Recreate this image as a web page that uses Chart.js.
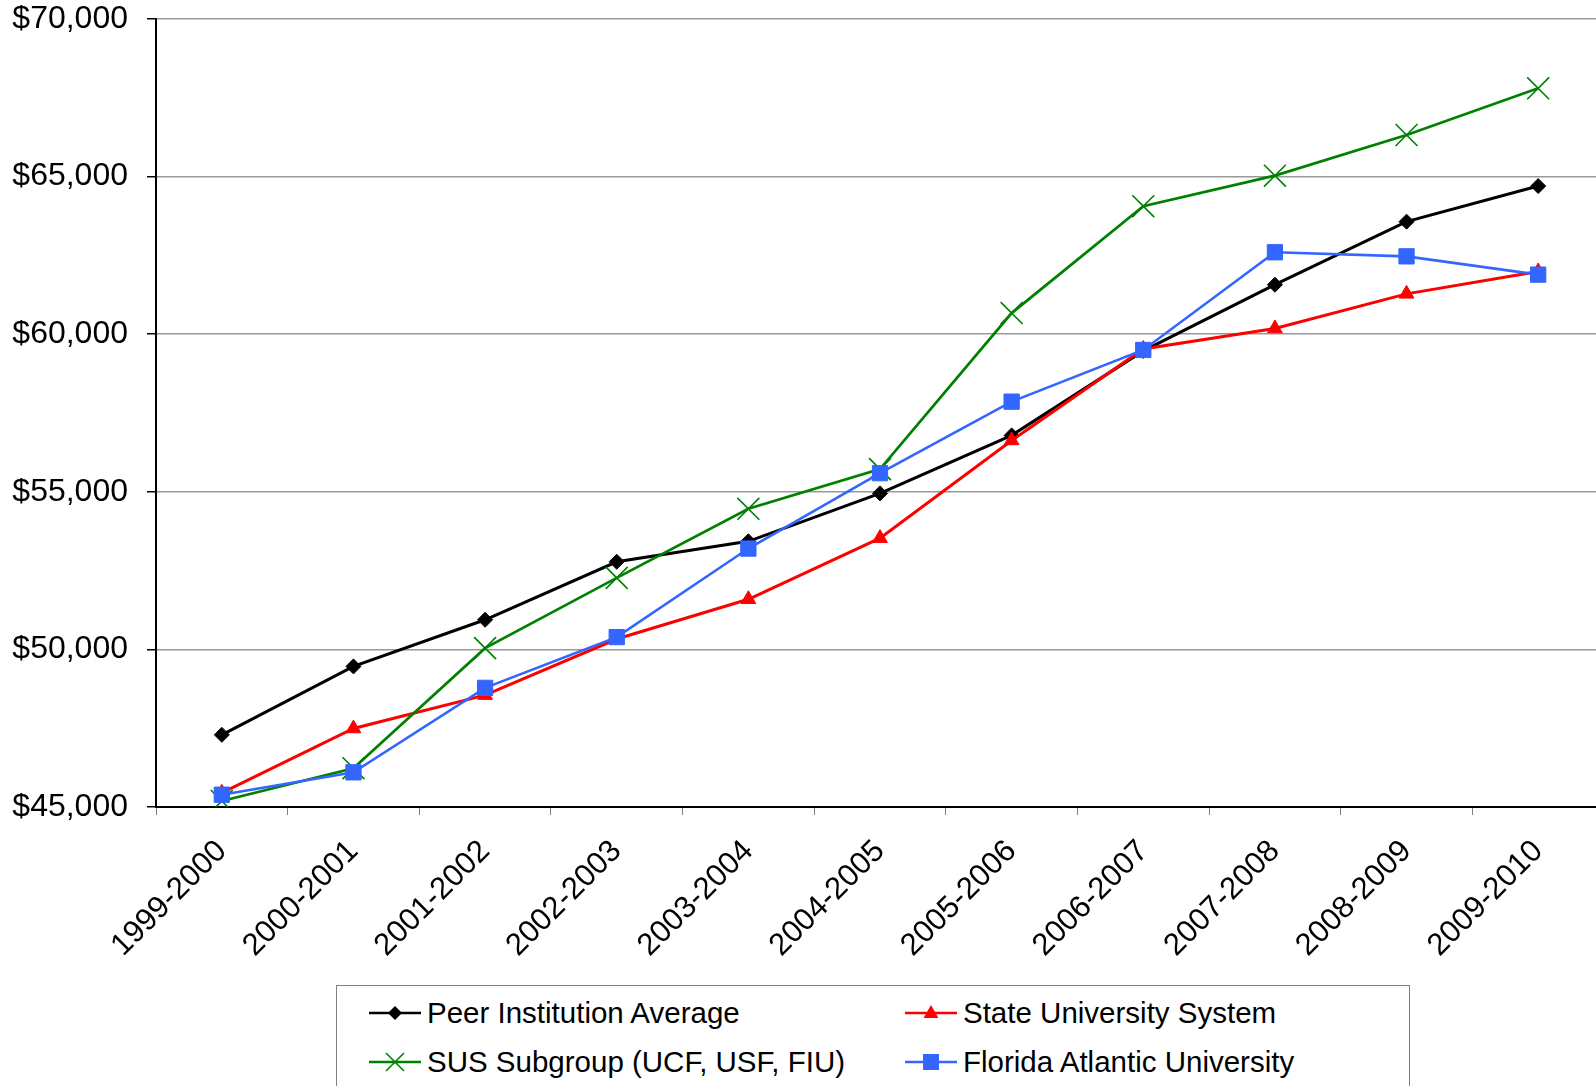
<!DOCTYPE html>
<html>
<head>
<meta charset="utf-8">
<script src="https://cdn.jsdelivr.net/npm/chart.js@4.4.1/dist/chart.umd.min.js"></script>
<style>
  html, body { margin: 0; background: #fff; overflow: hidden; font-family: "Liberation Sans", Arial, sans-serif; }
  #wrap { position: absolute; left: 0; top: 0; width: 1604px; height: 975px; }
  #legend {
    position: absolute; left: 336px; top: 985px; width: 1074px; height: 130px;
    border: 1px solid #808080; box-sizing: border-box;
  }
  .item { position: absolute; display: flex; align-items: center; font-size: 29.5px; color: #000; white-space: nowrap; }
  .item canvas { margin-right: 6px; }
</style>
</head>
<body>
<div id="wrap"><canvas id="salaryChart"></canvas></div>
<div id="legend"></div>
<script>
// academic years on the x axis
const years = ["1999-2000", "2000-2001", "2001-2002", "2002-2003", "2003-2004", "2004-2005",
               "2005-2006", "2006-2007", "2007-2008", "2008-2009", "2009-2010"];

// average salaries
const peerAverage = [47290, 49460, 50940, 52780, 53430, 54950, 56790, 59470, 61570, 63570, 64700];
const stateSystem = [45450, 47490, 48550, 50330, 51590, 53530, 56630, 59530, 60180, 61280, 61990];
const susSubgroup = [45190, 46230, 50040, 52270, 54460, 55720, 60670, 64060, 65030, 66320, 67800];
const fauSalaries = [45390, 46100, 48780, 50390, 53200, 55590, 57860, 59500, 62600, 62470, 61890];

const yTicks = [45000, 50000, 55000, 60000, 65000, 70000];

const TICK_FONT = { family: "'Liberation Sans', Arial, sans-serif", size: 32 };
const X_FONT = { family: "'Liberation Sans', Arial, sans-serif", size: 31 };

function series(label, data, color, style, radius, order, lw, pbw) {
    return {
        label: label,
        data: data,
        borderColor: color,
        backgroundColor: color,
        borderWidth: lw,
        pointStyle: style,
        pointRadius: radius,
        pointHoverRadius: radius,
        pointBorderWidth: pbw || 1,
        pointBorderColor: color,
        pointBackgroundColor: color,
        tension: 0,
        fill: false,
        order: order
    };
}

const datasets = [
    series("Peer Institution Average", peerAverage, "#000000", "rectRot", 7.5, 3, 3),
    series("State University System", stateSystem, "#FF0000", "triangle", 8.5, 2, 3),
    series("SUS Subgroup (UCF, USF, FIU)", susSubgroup, "#008000", "crossRot", 15.5, 1, 2.7, 1.6),
    series("Florida Atlantic University", fauSalaries, "#3366FF", "rect", 10.8, 0, 2.6)
];

const ctx = document.getElementById('salaryChart').getContext('2d');
const salaryChart = new Chart(ctx, {
    type: 'line',
    data: { labels: years, datasets: datasets },
    options: {
        responsive: true,
        maintainAspectRatio: false,
        animation: false,
        layout: { autoPadding: false, padding: { top: 19, right: 0, left: 0, bottom: 0 } },
        plugins: { legend: { display: false }, tooltip: { enabled: false } },
        scales: {
            x: {
                offset: true,
                grid: { drawOnChartArea: false, drawTicks: true, tickLength: 8, color: '#808080', offset: true },
                border: { color: '#000000', width: 2 },
                ticks: { color: '#000', font: X_FONT, minRotation: 45, maxRotation: 45, autoSkip: false, padding: 18 },
                afterFit: function (scale) {
                    scale.height = 975 - 807;
                    scale.paddingLeft = 0;
                    scale.paddingRight = 0;
                }
            },
            y: {
                min: 45000,
                max: 70000,
                afterBuildTicks: function (scale) { scale.ticks = yTicks.map(v => ({ value: v })); },
                grid: { color: '#999999', lineWidth: 1.5, tickLength: 9, tickColor: '#000' },
                border: { color: '#000000', width: 2 },
                ticks: {
                    color: '#000', font: TICK_FONT, padding: 19,
                    callback: function (v) { return '$' + v.toLocaleString('en-US'); }
                },
                afterFit: function (scale) {
                    scale.width = 156;
                    scale.paddingTop = 0;
                    scale.paddingBottom = 0;
                }
            }
        }
    }
});

// legend: two columns, line + marker then label
const legendPos = [
    { left: 32, top: 9 }, { left: 568, top: 9 },
    { left: 32, top: 58 }, { left: 568, top: 58 }
];
const legendBox = document.getElementById('legend');
datasets.forEach(function (ds, i) {
    const item = document.createElement('div');
    item.className = 'item';
    item.style.left = legendPos[i].left + 'px';
    item.style.top = legendPos[i].top + 'px';
    const c = document.createElement('canvas');
    c.width = 52; c.height = 36;
    const g = c.getContext('2d');
    g.strokeStyle = ds.borderColor; g.fillStyle = ds.borderColor; g.lineWidth = 2.5;
    g.beginPath(); g.moveTo(0, 18); g.lineTo(52, 18); g.stroke();
    const cx = 26, cy = 18;
    g.beginPath();
    if (ds.pointStyle === 'rectRot') {
        g.moveTo(cx, cy - 7); g.lineTo(cx + 7, cy); g.lineTo(cx, cy + 7); g.lineTo(cx - 7, cy); g.closePath(); g.fill();
    } else if (ds.pointStyle === 'triangle') {
        g.moveTo(cx, cy - 8); g.lineTo(cx + 7.4, cy + 5); g.lineTo(cx - 7.4, cy + 5); g.closePath(); g.fill();
    } else if (ds.pointStyle === 'crossRot') {
        g.lineWidth = 1.6;
        g.moveTo(cx - 9, cy - 9); g.lineTo(cx + 9, cy + 9);
        g.moveTo(cx + 9, cy - 9); g.lineTo(cx - 9, cy + 9); g.stroke();
    } else {
        g.fillRect(cx - 8, cy - 8, 16, 16);
    }
    item.appendChild(c);
    const t = document.createElement('span');
    t.textContent = ds.label;
    item.appendChild(t);
    legendBox.appendChild(item);
});
</script>
</body>
</html>
